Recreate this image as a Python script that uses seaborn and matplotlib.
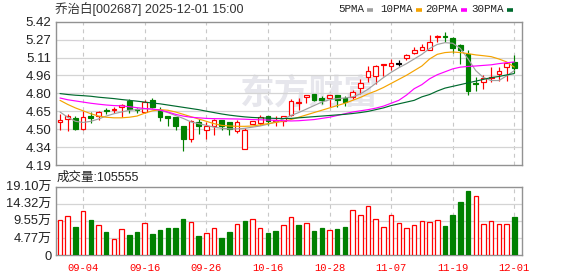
import matplotlib
matplotlib.use("Agg")
import matplotlib.pyplot as plt
import seaborn as sns
import pandas as pd
from matplotlib.lines import Line2D

# ---------------- data ----------------
dates = ["09-01", "09-02", "09-03", "09-04", "09-05", "09-08", "09-09", "09-10", "09-11", "09-12",
         "09-15", "09-16", "09-17", "09-18", "09-19", "09-22", "09-23", "09-24", "09-25", "09-26",
         "09-29", "09-30", "10-09", "10-10", "10-13", "10-14", "10-15", "10-16", "10-17", "10-20",
         "10-21", "10-22", "10-23", "10-24", "10-27", "10-28", "10-29", "10-30", "10-31", "11-03",
         "11-04", "11-05", "11-06", "11-07", "11-10", "11-11", "11-12", "11-13", "11-14", "11-17",
         "11-18", "11-19", "11-20", "11-21", "11-24", "11-25", "11-26", "11-27", "11-28", "12-01"]

opens = [4.558, 4.586, 4.597, 4.502, 4.613, 4.613, 4.660, 4.660, 4.687, 4.739,
         4.670, 4.647, 4.744, 4.665, 4.610, 4.600, 4.525, 4.415, 4.560, 4.487,
         4.525, 4.574, 4.557, 4.479, 4.326, 4.545, 4.551, 4.613, 4.565, 4.565,
         4.621, 4.718, 4.776, 4.802, 4.762, 4.768, 4.788, 4.762, 4.774, 4.848,
         4.947, 4.958, 5.045, 5.036, 5.059, 5.111, 5.155, 5.181, 5.181, 5.288,
         5.297, 5.277, 5.219, 5.146, 4.898, 4.904, 4.936, 4.973, 5.030, 5.074]
highs = [4.629, 4.629, 4.610, 4.652, 4.643, 4.653, 4.678, 4.684, 4.710, 4.759,
         4.675, 4.750, 4.762, 4.685, 4.613, 4.603, 4.525, 4.580, 4.583, 4.560,
         4.583, 4.580, 4.563, 4.580, 4.505, 4.571, 4.621, 4.613, 4.607, 4.607,
         4.753, 4.767, 4.791, 4.802, 4.782, 4.795, 4.790, 4.785, 4.832, 4.927,
         5.037, 5.045, 5.056, 5.100, 5.088, 5.146, 5.204, 5.230, 5.303, 5.306,
         5.330, 5.291, 5.228, 5.175, 4.947, 4.961, 5.030, 5.030, 5.074, 5.135]
lows = [4.487, 4.478, 4.487, 4.493, 4.551, 4.577, 4.629, 4.638, 4.603, 4.638,
        4.638, 4.635, 4.680, 4.570, 4.522, 4.487, 4.307, 4.387, 4.456, 4.415,
        4.450, 4.493, 4.450, 4.465, 4.326, 4.540, 4.537, 4.537, 4.522, 4.522,
        4.607, 4.666, 4.718, 4.738, 4.710, 4.690, 4.687, 4.698, 4.753, 4.797,
        4.901, 4.884, 4.958, 5.007, 5.036, 5.088, 5.146, 5.175, 5.181, 5.245,
        5.245, 5.155, 5.060, 4.794, 4.829, 4.846, 4.904, 4.914, 4.910, 4.980]
closes = [4.572, 4.609, 4.496, 4.600, 4.597, 4.647, 4.655, 4.667, 4.704, 4.670,
          4.666, 4.730, 4.690, 4.603, 4.597, 4.522, 4.415, 4.569, 4.528, 4.522,
          4.574, 4.528, 4.499, 4.560, 4.490, 4.565, 4.601, 4.565, 4.572, 4.607,
          4.738, 4.732, 4.791, 4.747, 4.747, 4.790, 4.745, 4.733, 4.820, 4.890,
          5.000, 5.036, 5.053, 5.065, 5.059, 5.134, 5.181, 5.207, 5.245, 5.297,
          5.288, 5.190, 5.175, 4.829, 4.881, 4.933, 4.942, 4.999, 5.068, 5.019]

ma5 = [4.645, 4.600, 4.565, 4.555, 4.565, 4.585, 4.610, 4.630, 4.645, 4.660,
       4.665, 4.672, 4.670, 4.660, 4.640, 4.615, 4.590, 4.560, 4.545, 4.530,
       4.515, 4.505, 4.500, 4.500, 4.505, 4.515, 4.525, 4.540, 4.560, 4.585,
       4.615, 4.640, 4.670, 4.700, 4.730, 4.750, 4.760, 4.765, 4.775, 4.800,
       4.840, 4.890, 4.940, 4.985, 5.025, 5.060, 5.100, 5.140, 5.190, 5.225,
       5.240, 5.235, 5.190, 5.100, 5.000, 4.940, 4.915, 4.915, 4.955, 5.000]
ma10 = [4.745, 4.710, 4.680, 4.655, 4.630, 4.610, 4.600, 4.595, 4.595, 4.600,
        4.610, 4.635, 4.655, 4.665, 4.660, 4.645, 4.625, 4.605, 4.585, 4.565,
        4.545, 4.530, 4.525, 4.522, 4.522, 4.525, 4.535, 4.545, 4.555, 4.565,
        4.580, 4.600, 4.620, 4.640, 4.660, 4.680, 4.700, 4.720, 4.745, 4.770,
        4.800, 4.825, 4.855, 4.890, 4.925, 4.960, 5.000, 5.040, 5.100, 5.140,
        5.155, 5.160, 5.155, 5.146, 5.135, 5.128, 5.120, 5.100, 5.075, 5.030]
ma20 = [4.765, 4.750, 4.740, 4.730, 4.720, 4.712, 4.705, 4.700, 4.698, 4.690,
        4.682, 4.675, 4.670, 4.662, 4.645, 4.625, 4.610, 4.600, 4.595, 4.590,
        4.588, 4.587, 4.586, 4.585, 4.583, 4.580, 4.578, 4.576, 4.573, 4.570,
        4.568, 4.570, 4.575, 4.580, 4.590, 4.600, 4.615, 4.630, 4.645, 4.655,
        4.665, 4.678, 4.695, 4.720, 4.745, 4.790, 4.845, 4.880, 4.930, 4.965,
        4.990, 5.015, 5.030, 5.036, 5.040, 5.045, 5.050, 5.060, 5.068, 5.074]
ma30 = [4.803, 4.795, 4.789, 4.785, 4.780, 4.772, 4.766, 4.760, 4.752, 4.745,
        4.738, 4.730, 4.722, 4.715, 4.705, 4.695, 4.685, 4.675, 4.665, 4.652,
        4.640, 4.628, 4.618, 4.610, 4.603, 4.598, 4.595, 4.592, 4.590, 4.589,
        4.590, 4.595, 4.600, 4.605, 4.610, 4.615, 4.620, 4.625, 4.632, 4.640,
        4.650, 4.665, 4.680, 4.700, 4.715, 4.730, 4.745, 4.775, 4.795, 4.825,
        4.850, 4.865, 4.880, 4.895, 4.910, 4.925, 4.940, 4.950, 4.963, 4.975]

# volume in 万
volumes = [9.8, 10.9, 7.8, 12.3, 9.8, 8.3, 6.4, 4.5, 7.3, 5.6,
           6.4, 8.9, 5.9, 7.0, 7.5, 7.5, 10.1, 9.1, 5.3, 6.1,
           7.5, 4.8, 6.4, 8.6, 9.5, 10.0, 7.5, 6.2, 6.7, 8.3,
           10.5, 8.4, 8.9, 6.7, 7.5, 7.0, 7.3, 7.8, 12.5, 11.1,
           13.6, 10.0, 7.7, 11.1, 8.9, 7.5, 8.3, 9.5, 9.1, 9.7,
           8.1, 11.2, 14.8, 17.9, 16.4, 8.6, 9.5, 8.6, 8.6, 10.56]
vol_up = [1, 1, 0, 1, 0, 1, 0, 1, 1, 0,
          0, 1, 0, 0, 0, 0, 0, 1, 0, 1,
          1, 0, 0, 1, 0, 1, 1, 0, 0, 1,
          1, 0, 1, 0, 0, 1, 0, 0, 1, 1,
          1, 1, 1, 1, 1, 1, 1, 1, 1, 1,
          0, 0, 0, 0, 1, 1, 1, 1, 1, 0]

price_ticks = [4.19, 4.34375, 4.4975, 4.65125, 4.805, 4.95875, 5.1125, 5.26625, 5.42]
price_labels = ["4.19", "4.34", "4.50", "4.65", "4.80", "4.96", "5.11", "5.27", "5.42"]
vol_ticks = [0, 4.775, 9.55, 14.325, 19.10]
vol_labels = ["0", "4.77万", "9.55万", "14.32万", "19.10万"]
tick_dates = ["09-04", "09-16", "09-26", "10-16", "10-28", "11-07", "11-19", "12-01"]

title = "乔治白[002687] 2025-12-01 15:00"
vol_title = "成交量:105555"
legend_items = [("5PMA", "#a0a0a0"), ("10PMA", "#f5a300"), ("20PMA", "#ff00ff"), ("30PMA", "#006a2e")]

# ---------------- style ----------------
sns.set_theme(style="white")
plt.rcParams["font.family"] = ["Liberation Sans", "Noto Sans CJK SC", "DejaVu Sans"]

RED = "#ff0000"
GREEN = "#008000"
FRAME = "#929292"
GRID = "#d4d4d4"

W, H = 578, 276
fig = plt.figure(figsize=(W / 100, H / 100), dpi=100)
fig.patch.set_facecolor("white")

L, R = 55.7, 522.3
axp = fig.add_axes([L / W, 1 - 165 / H, (R - L) / W, (165 - 21.7) / H])
axv = fig.add_axes([L / W, 1 - 255 / H, (R - L) / W, (255 - 186.7) / H], sharex=axp)

idx = list(range(len(dates)))
df = pd.DataFrame({"i": idx, "open": opens, "high": highs, "low": lows, "close": closes,
                   "ma5": ma5, "ma10": ma10, "ma20": ma20, "ma30": ma30,
                   "vol": volumes, "vup": vol_up})

# candles
edge_c, face_c, wick_c, bottoms, heights = [], [], [], [], []
for o, c in zip(opens, closes):
    if c > o:
        edge_c.append(RED); face_c.append("white"); wick_c.append(RED)
    elif c < o:
        edge_c.append(GREEN); face_c.append(GREEN); wick_c.append(GREEN)
    else:
        edge_c.append("black"); face_c.append("black"); wick_c.append("black")
    bottoms.append(min(o, c))
    heights.append(max(abs(c - o), 0.004))

axp.vlines(df["i"], df["low"], df["high"], colors=wick_c, linewidth=0.85, zorder=3)
axp.bar(df["i"], heights, bottom=bottoms, width=0.62, color=face_c, edgecolor=edge_c,
        linewidth=0.85, zorder=4)

# moving averages
for col, (lab, colr) in zip(["ma5", "ma10", "ma20", "ma30"], legend_items):
    sns.lineplot(data=df, x="i", y=col, ax=axp, color=colr, linewidth=0.85, zorder=5, legend=False)

# volume bars
vface = ["white" if u else GREEN for u in vol_up]
vedge = [RED if u else GREEN for u in vol_up]
axv.bar(df["i"], df["vol"], width=0.58, color=vface, edgecolor=vedge, linewidth=0.9, zorder=3)

# axes styling
tick_pos = [dates.index(d) for d in tick_dates]
for ax in (axp, axv):
    ax.set_xlim(-0.56, 60.04)
    ax.set_xlabel("")
    ax.set_ylabel("")
    for s in ax.spines.values():
        s.set_color(FRAME)
        s.set_linewidth(1.0)
        s.set_visible(True)
    ax.tick_params(axis="both", length=0)
    for p in tick_pos:
        ax.axvline(p, color="#c8c8c8", linewidth=0.8, linestyle=(0, (3.5, 3.5)), zorder=1)
    ax.set_facecolor("white")

axp.set_ylim(4.19, 5.42)
axp.set_yticks(price_ticks)
axp.set_yticklabels(price_labels)
for t in price_ticks[1:-1]:
    axp.axhline(t, color=GRID, linewidth=0.9, zorder=1)
axp.tick_params(axis="y", labelsize=9.5, labelcolor="#222222", pad=3)
axp.tick_params(axis="x", labelbottom=False)

axv.set_ylim(0, 19.10)
axv.set_yticks(vol_ticks)
axv.set_yticklabels(vol_labels)
for t in vol_ticks[1:-1]:
    axv.axhline(t, color=GRID, linewidth=0.9, zorder=1)
axv.tick_params(axis="y", labelsize=9.3, labelcolor="#222222", pad=3)
axv.set_xticks(tick_pos)
axv.set_xticklabels(tick_dates)
axv.tick_params(axis="x", labelsize=7.6, labelcolor=RED, pad=6)
for lbl in axv.get_xticklabels():
    lbl.set_family(["Liberation Mono", "DejaVu Sans Mono"])

# watermark
axp.text(0.543, 0.50, "东方财富", transform=axp.transAxes, ha="center", va="center",
         fontsize=25, fontweight="bold", color="#e6e6ec", zorder=0,
         family=["Noto Sans CJK SC"])

# titles
fig.text(55 / W, 1 - 9.5 / H, title, ha="left", va="center", fontsize=9, color="#333333",
         family=["Liberation Sans", "Noto Sans CJK SC"])
fig.text(57 / W, 1 - 177.5 / H, vol_title, ha="left", va="center", fontsize=9, color="#222222",
         family=["Liberation Sans", "Noto Sans CJK SC"])

# legend
lx = [338, 380, 425, 471]
for (lab, colr), x0 in zip(legend_items, lx):
    t = fig.text(x0 / W, 1 - 9.5 / H, lab, ha="left", va="center", fontsize=7.8, color="#222222",
                 family=["Liberation Mono", "DejaVu Sans Mono"])
    fig.canvas.draw()
    bb = t.get_window_extent()
    xs = bb.x1 + 3
    fig.add_artist(Line2D([xs / W, (xs + 6) / W], [1 - 9.5 / H, 1 - 9.5 / H],
                          transform=fig.transFigure, color=colr, linewidth=2.6,
                          solid_capstyle="butt"))

fig.savefig("out.png", dpi=100, facecolor="white")
